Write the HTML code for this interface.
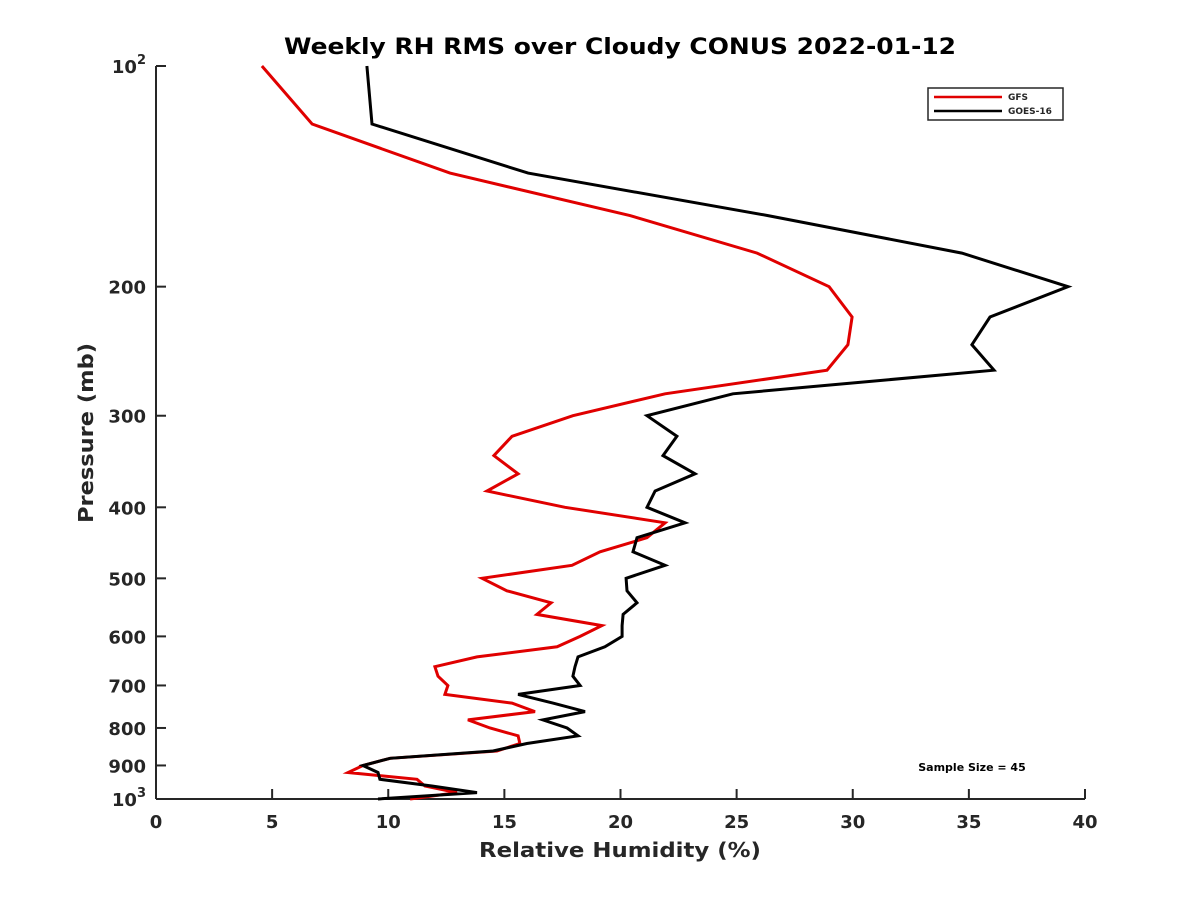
<!DOCTYPE html>
<html><head><meta charset="utf-8"><style>
body{margin:0;background:#fff;}
svg text{font-family:"DejaVu Sans","Liberation Sans",sans-serif;font-weight:bold;fill:#262626;}
</style></head><body>
<svg width="1200" height="900" xmlns="http://www.w3.org/2000/svg">
<rect width="1200" height="900" fill="#fff"/>
<text x="620" y="54" font-size="22" text-anchor="middle" textLength="672" lengthAdjust="spacingAndGlyphs" style="fill:#000">Weekly RH RMS over Cloudy CONUS 2022-01-12</text>
<g id="axes"></g>
<g id="series"></g>
<g>
<rect x="928" y="88" width="135" height="32" fill="#fff" stroke="#262626" stroke-width="1.5"/>
<line x1="934" y1="97" x2="1002" y2="97" stroke="#e00000" stroke-width="2.5"/>
<text x="1008" y="100" font-size="9">GFS</text>
<line x1="934" y1="111" x2="1002" y2="111" stroke="#000" stroke-width="2.5"/>
<text x="1008" y="114" font-size="9">GOES-16</text>
</g>
<text x="972" y="771" font-size="11" text-anchor="middle" style="fill:#000">Sample Size = 45</text>
<text x="620" y="857" font-size="20" text-anchor="middle" textLength="282" lengthAdjust="spacingAndGlyphs">Relative Humidity (%)</text>
<text transform="translate(93,433) rotate(-90)" font-size="20" text-anchor="middle" textLength="180" lengthAdjust="spacingAndGlyphs">Pressure (mb)</text>
</svg>
<script>
const pressures=[100,120,140,160,180,200,220,240,260,280,300,320,340,360,380,400,420,440,460,480,500,520,540,560,580,600,620,640,660,680,700,720,740,760,780,800,820,840,860,880,900,920,940,960,980,1000];
const gfsRms=[4.56,6.72,12.66,20.41,25.88,28.98,29.97,29.79,28.89,21.92,17.95,15.33,14.55,15.59,14.25,17.61,21.92,21.14,19.12,17.91,14.04,15.11,17.01,16.40,19.20,18.26,17.27,13.82,12.01,12.14,12.57,12.44,15.33,16.32,13.43,14.38,15.59,15.67,14.68,10.08,8.91,8.27,11.24,11.58,12.96,10.94];
const goesRms=[9.08,9.30,16.02,26.35,34.70,39.27,35.91,35.13,36.08,24.84,21.14,22.43,21.83,23.21,21.49,21.14,22.78,20.71,20.54,21.92,20.24,20.28,20.71,20.11,20.07,20.07,19.33,18.17,18.04,17.95,18.26,15.59,17.09,18.47,16.66,17.70,18.17,15.97,14.51,10.08,8.91,9.56,9.64,11.88,13.82,9.56];
const xTicks=[0,5,10,15,20,25,30,35,40];
const yTicks=[100,200,300,400,500,600,700,800,900,1000];
const yTickLabels=["10|2","200","300","400","500","600","700","800","900","10|3"];
const NS="http://www.w3.org/2000/svg";
const X0=156,X1=1085,Y0=66,Y1=799;
function xs(v){return X0+(v-0)/40*(X1-X0);}
function ys(p){return Y0+(Math.log10(p)-2)*(Y1-Y0);}
function mk(t,a,parent){const e=document.createElementNS(NS,t);for(const k in a)e.setAttribute(k,a[k]);parent.appendChild(e);return e;}
const axes=document.getElementById('axes');
const xl=mk('line',{x1:X0,y1:Y1,x2:X1,y2:Y1,stroke:'#262626','stroke-width':2},axes);


const yl=mk('line',{x1:X0,y1:Y0,x2:X0,y2:Y1,stroke:'#262626','stroke-width':2},axes);


xTicks.forEach(v=>{
 const x=xs(v);
 const t=mk('line',{x1:x,y1:Y1,x2:x,y2:Y1-10,stroke:'#262626','stroke-width':2},axes);
 
 
 const l=mk('text',{x:x,y:Y1+29,'font-size':18,'text-anchor':'middle'},axes);
 l.textContent=v;
 
 
});
yTicks.forEach((p,i)=>{
 const y=ys(p);
 const t=mk('line',{x1:X0,y1:y,x2:X0+10,y2:y,stroke:'#262626','stroke-width':2},axes);
 
 
 const l=mk('text',{x:X0-10,y:y+7,'font-size':18,'text-anchor':'end'},axes);
 const parts=yTickLabels[i].split('|');
 if(parts.length>1){
  const b=mk('tspan',{},l);b.textContent=parts[0];
  const s=mk('tspan',{dy:-9,'font-size':13},l);s.textContent=parts[1];
 } else l.textContent=parts[0];
 
 
});
const ser=document.getElementById('series');
function line(vals,color,name){
 const pts=vals.map((v,i)=>xs(v).toFixed(1)+','+ys(pressures[i]).toFixed(1)).join(' ');
 const pl=mk('polyline',{points:pts,fill:'none',stroke:color,'stroke-width':3,'stroke-linejoin':'miter'},ser);
 
 
}
line(gfsRms,'#e00000','gfs-line');
line(goesRms,'#000000','goes16-line');
</script>
</body></html>
